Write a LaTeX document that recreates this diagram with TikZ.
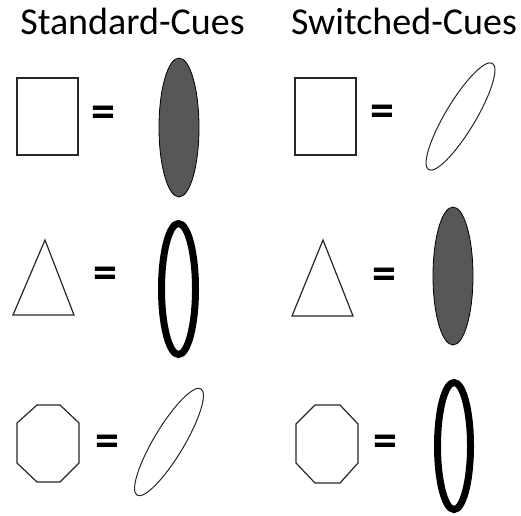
\documentclass[tikz,border=0pt]{standalone}
\usepackage{fontspec}
\setmainfont{Carlito}
\tikzset{
  shapeline/.style={draw=black!85, line width=1.2pt},
  cuefill/.style={draw=black, line width=0.8pt, fill=black!66},
  cuering/.style={draw=black, line width=7pt},
  cuethin/.style={draw=black!85, line width=1pt},
  eqsign/.style={font=\fontsize{48}{48}\selectfont\bfseries, inner sep=0pt},
  title/.style={font=\fontsize{38}{38}\selectfont, inner sep=0pt, anchor=base}
}
\begin{document}
\begin{tikzpicture}[x=1pt,y=-1pt]
\useasboundingbox (0,0) rectangle (521,515);
% titles
\node[title] (t1) at (132.5,34) {Standard-Cues};
\node[title] (t2) at (404,34) {Switched-Cues};
% left column
\draw[shapeline] (17,78) rectangle (78,155);
\node[eqsign] (e1) at (103,117) {=};
\draw[cuefill] (179,127.5) ellipse [x radius=20pt, y radius=69.5pt];

\draw[shapeline] (45,240) -- (13,315) -- (74,315) -- cycle;
\node[eqsign] (e2) at (105,278) {=};
\draw[cuering] (178.5,289) ellipse [x radius=17pt, y radius=65.5pt];

\draw[shapeline] (37,405) -- (60,405) -- (79,423) -- (79,463) -- (60,482) -- (37,482) -- (17,463) -- (17,423) -- cycle;
\node[eqsign] (e3) at (107,446) {=};
\draw[cuethin, shift={(169,442)}, rotate=59] (0,0) ellipse [x radius=62pt, y radius=15pt];

% right column
\draw[shapeline] (295,78) rectangle (356,155);
\node[eqsign] (e4) at (382,116) {=};
\draw[cuethin, shift={(460.5,116.5)}, rotate=59] (0,0) ellipse [x radius=62pt, y radius=15pt];

\draw[shapeline] (323,240) -- (292,316) -- (353,316) -- cycle;
\node[eqsign] (e5) at (384,279) {=};
\draw[cuefill] (453,276) ellipse [x radius=20pt, y radius=69pt];

\draw[shapeline] (315,405) -- (340,405) -- (358,424) -- (358,463) -- (340,483) -- (315,483) -- (296,463) -- (296,424) -- cycle;
\node[eqsign] (e6) at (385,446) {=};
\draw[cuering] (454,446) ellipse [x radius=16.5pt, y radius=63.5pt];
\end{tikzpicture}
\end{document}
